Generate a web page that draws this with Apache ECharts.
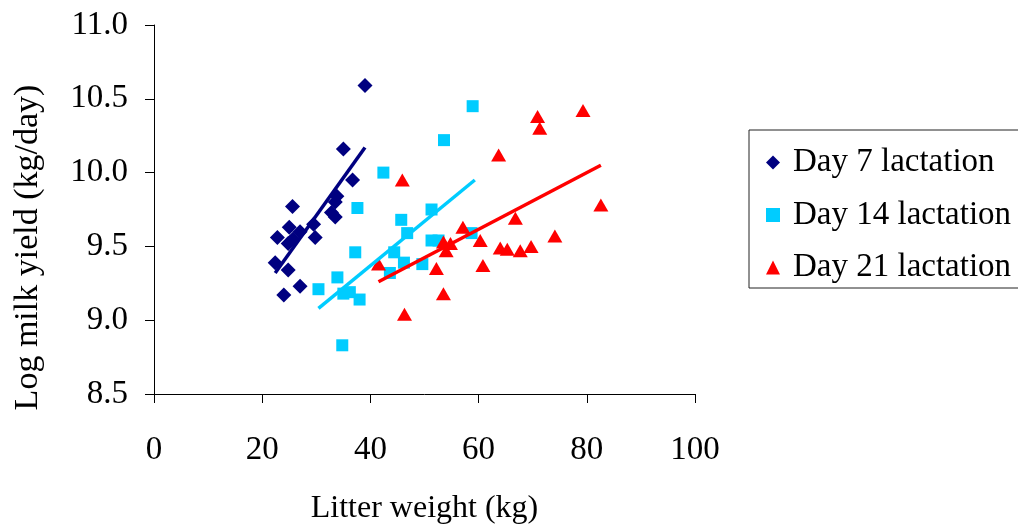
<!DOCTYPE html>
<html>
<head>
  <meta charset="UTF-8">
  <title>Litter weight vs milk yield</title>
  <script src="https://cdn.jsdelivr.net/npm/echarts@6/dist/echarts.min.js"></script>
</head>
<body style="margin:0; background:#fff;">
  <div id="main" style="width:1018px; height:526px;"></div>
  <script type="text/javascript">
    // [litter weight kg, log milk yield]
    var day7 = [
      [39.0, 10.59], [35.0, 10.16], [36.7, 9.95], [33.8, 9.84], [33.5, 9.80],
      [32.8, 9.73], [33.5, 9.70], [25.6, 9.77], [29.5, 9.65], [29.8, 9.56],
      [25.0, 9.63], [22.8, 9.56], [27.0, 9.60], [25.7, 9.55], [24.8, 9.52],
      [22.4, 9.39], [24.8, 9.34], [27.0, 9.23], [24.0, 9.17]
    ];
    var day14 = [
      [58.9, 10.45], [53.6, 10.22], [42.4, 10.00], [37.6, 9.76], [51.3, 9.75],
      [45.7, 9.68], [46.8, 9.59], [51.3, 9.54], [52.6, 9.54], [58.7, 9.59],
      [37.2, 9.46], [44.4, 9.46], [46.2, 9.39], [49.6, 9.38], [43.6, 9.32],
      [33.9, 9.29], [30.4, 9.21], [35.0, 9.18], [36.2, 9.19], [38.0, 9.14],
      [34.8, 8.83]
    ];
    var day21 = [
      [79.3, 10.42], [70.9, 10.38], [71.3, 10.30], [63.7, 10.12], [45.9, 9.95],
      [82.6, 9.78], [66.8, 9.69], [57.1, 9.63], [74.1, 9.57], [60.3, 9.54],
      [53.5, 9.53], [54.8, 9.52], [54.0, 9.47], [64.0, 9.49], [65.3, 9.48],
      [67.7, 9.47], [69.7, 9.50], [41.5, 9.38], [52.2, 9.35], [60.8, 9.37],
      [53.5, 9.18], [46.3, 9.04]
    ];
    // linear trend lines (end points)
    var trend7 = [[22.4, 9.32], [39.0, 10.17]];
    var trend14 = [[30.4, 9.08], [59.3, 9.95]];
    var trend21 = [[41.5, 9.26], [82.6, 10.05]];

    var names = ['Day 7 lactation', 'Day 14 lactation', 'Day 21 lactation'];
    var colors = ['#000080', '#00ccff', '#ff0000'];
    var font = 'Liberation Serif';

    var chart = echarts.init(document.getElementById('main'));
    chart.setOption({
      animation: false,
      backgroundColor: '#fff',
      textStyle: { fontFamily: font, color: '#000' },
      grid: { left: 154, right: 323, top: 25, bottom: 132, outerBoundsMode: 'none', containLabel: false },
      legend: {
        orient: 'vertical',
        left: 749,
        top: 130,
        padding: [16, 12, 4, 17],
        itemGap: 19.5,
        itemWidth: 14,
        itemHeight: 14,
        borderColor: '#222',
        borderWidth: 1,
        textStyle: { fontFamily: font, fontSize: 33, color: '#000', padding: [0, 0, 0, 8] },
        data: [
          { name: names[0], icon: 'diamond' },
          { name: names[1], icon: 'rect' },
          { name: names[2], icon: 'triangle' }
        ]
      },
      xAxis: {
        type: 'value',
        min: 0,
        max: 100,
        interval: 20,
        name: 'Litter weight (kg)',
        nameLocation: 'middle',
        nameGap: 99,
        nameTextStyle: { fontFamily: font, fontSize: 32, color: '#000' },
        axisLine: { onZero: false, lineStyle: { color: '#000', width: 1 } },
        axisTick: { length: 9, lineStyle: { color: '#000' } },
        axisLabel: { margin: 40, fontFamily: font, fontSize: 33, color: '#000' },
        splitLine: { show: false }
      },
      yAxis: {
        type: 'value',
        min: 8.5,
        max: 11,
        interval: 0.5,
        name: 'Log milk yield (kg/day)',
        nameLocation: 'middle',
        nameGap: 109,
        nameRotate: 90,
        nameTextStyle: { fontFamily: font, fontSize: 34, color: '#000', padding: [0, 76, 0, 0] },
        axisLine: { show: true, onZero: false, lineStyle: { color: '#000', width: 1 } },
        axisTick: { show: true, length: 9, lineStyle: { color: '#000' } },
        axisLabel: {
          margin: 26,
          fontFamily: font,
          fontSize: 33,
          color: '#000',
          formatter: function (v) { return v.toFixed(1); }
        },
        splitLine: { show: false }
      },
      series: [
        {
          name: names[0], type: 'scatter', symbol: 'diamond', symbolSize: 15,
          itemStyle: { color: colors[0], opacity: 1 }, data: day7, z: 3
        },
        {
          name: names[1], type: 'scatter', symbol: 'rect', symbolSize: 12,
          itemStyle: { color: colors[1], opacity: 1 }, data: day14, z: 3
        },
        {
          name: names[2], type: 'scatter', symbol: 'triangle', symbolSize: [15, 13],
          itemStyle: { color: colors[2], opacity: 1 }, data: day21, z: 3
        },
        {
          name: 't7', type: 'line', data: trend7, showSymbol: false, silent: true,
          lineStyle: { color: colors[0], width: 3.5 }, z: 4
        },
        {
          name: 't14', type: 'line', data: trend14, showSymbol: false, silent: true,
          lineStyle: { color: colors[1], width: 3.5 }, z: 4
        },
        {
          name: 't21', type: 'line', data: trend21, showSymbol: false, silent: true,
          lineStyle: { color: colors[2], width: 3.5 }, z: 4
        }
      ]
    });
  </script>
</body>
</html>
